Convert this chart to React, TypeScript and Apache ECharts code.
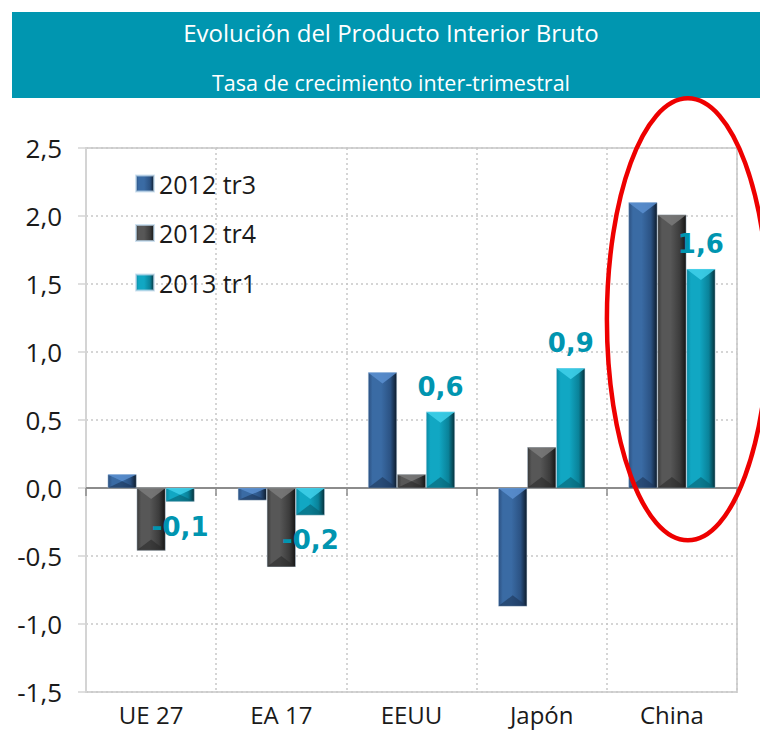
import React, { useEffect, useRef } from "react";
import * as echarts from "echarts";

const categories = ["UE 27", "EA 17", "EEUU", "Japón", "China"];
const seriesNames = ["2012 tr3", "2012 tr4", "2013 tr1"];
const tr3_2012 = [0.1, -0.09, 0.85, -0.87, 2.1];
const tr4_2012 = [-0.46, -0.58, 0.1, 0.3, 2.01];
const tr1_2013 = [-0.1, -0.2, 0.56, 0.88, 1.61];
const titleText = "Evolución del Producto Interior Bruto";
const subtitleText = "Tasa de crecimiento inter-trimestral";

const fmt = (v: number) => v.toFixed(1).replace(".", ",");

const grad = (c0: string, c1: string, c2: string, c3: string) =>
  new echarts.graphic.LinearGradient(0, 0, 1, 0, [
    { offset: 0, color: c0 },
    { offset: 0.15, color: c1 },
    { offset: 0.45, color: c1 },
    { offset: 0.78, color: c2 },
    { offset: 1, color: c3 },
  ]);

const BAR_W = 29;

export default function App() {
  const ref = useRef<HTMLDivElement>(null);
  useEffect(() => {
    if (!ref.current) return;
    const chart = echarts.init(ref.current, null, { renderer: "svg" });
    const font = "'Open Sans', 'Noto Sans', sans-serif";
    const colors = [
      grad("#2c5080", "#3a6ba4", "#2b5283", "#0d1b2b"),
      grad("#3a3a3a", "#575757", "#3c3c3c", "#141414"),
      grad("#0a8aa3", "#11a7c3", "#0a8299", "#05303a"),
    ];
    const topCols = ["#5a8fd0", "#7a7a7a", "#3fd0ea"];
    const botCols = ["#1c3658", "#2a2a2a", "#075f70"];
    const data = [tr3_2012, tr4_2012, tr1_2013];
    const series: any[] = data.map((vals, i) => ({
      name: seriesNames[i],
      type: "bar",
      xAxisIndex: 0,
      barWidth: BAR_W,
      barGap: "0%",
      itemStyle: { color: colors[i], borderColor: "rgba(190,215,235,0.7)", borderWidth: 0.6 },
      data: vals.map((v) => ({
        value: v,
        label:
          i === 2
            ? {
                show: true,
                position: v < 0 ? "bottom" : "top",
                distance: 12,
                formatter: () => fmt(v),
                color: "#0095b0",
                fontFamily: "'DejaVu Sans', Verdana, sans-serif",
                fontWeight: "bold",
                fontSize: 26,
              }
            : { show: false },
      })),
    }));
    const bevelData: number[][] = [];
    data.forEach((vals, i) => vals.forEach((v, j) => bevelData.push([j, v, i])));
    series.push({
      name: "bevel",
      type: "custom",
      silent: true,
      z: 3,
      xAxisIndex: 0,
      data: bevelData,
      encode: { x: 0, y: 1 },
      renderItem: (params: any, api: any) => {
        const j = api.value(0);
        const v = api.value(1);
        const i = api.value(2);
        const base = api.coord([j, 0]);
        const end = api.coord([j, v]);
        const x0 = base[0] + (i - 1.5) * BAR_W;
        const x1 = x0 + BAR_W;
        const xm = (x0 + x1) / 2;
        const yTop = Math.min(base[1], end[1]);
        const yBot = Math.max(base[1], end[1]);
        const h = yBot - yTop;
        const d = Math.min(11, h / 2);
        return {
          type: "group",
          children: [
            {
              type: "polygon",
              shape: { points: [[x0, yTop], [x1, yTop], [xm, yTop + d]] },
              style: { fill: topCols[i], opacity: 0.85 },
            },
            {
              type: "polygon",
              shape: { points: [[x0, yBot], [x1, yBot], [xm, yBot - d]] },
              style: { fill: botCols[i], opacity: 0.6 },
            },
          ],
        };
      },
    });
    chart.setOption({
      animation: false,
      backgroundColor: "#ffffff",
      grid: {
        left: 86,
        right: 23,
        top: 148,
        bottom: 38,
        show: true,
        borderColor: "#d4d4d4",
        borderWidth: 2,
      },
      legend: {
        orient: "vertical",
        left: 130,
        top: 166,
        itemWidth: 18,
        itemHeight: 16,
        itemGap: 24.5,
        icon: "rect",
        data: seriesNames,
        textStyle: { fontSize: 25, lineHeight: 25, color: "#1a1a1a", fontFamily: font },
      },
      xAxis: [
        {
          type: "category",
          data: categories,
          axisLine: { onZero: true, lineStyle: { color: "#8c8c8c", width: 2 } },
          axisTick: { show: true, length: 8, lineStyle: { color: "#8c8c8c", width: 1.5 } },
          axisLabel: { show: false },
          splitLine: { show: true, lineStyle: { color: "#c8c8c8", type: [2, 3], width: 1.5 } },
        },
        {
          type: "category",
          position: "bottom",
          data: categories,
          axisLine: { show: false, onZero: false },
          axisTick: { show: false },
          splitLine: { show: false },
          axisLabel: { fontSize: 24, lineHeight: 24, color: "#1a1a1a", fontFamily: font, margin: 10 },
        },
      ],
      yAxis: {
        type: "value",
        min: -1.5,
        max: 2.5,
        interval: 0.5,
        axisLine: { show: true, lineStyle: { color: "#d4d4d4", width: 2 } },
        axisTick: { show: true, length: 8, lineStyle: { color: "#d4d4d4", width: 1.5 } },
        axisLabel: {
          formatter: (v: number) => fmt(v),
          fontSize: 26,
          color: "#1a1a1a",
          fontFamily: font,
          margin: 24,
        },
        splitLine: { show: true, lineStyle: { color: "#c8c8c8", type: [2, 3], width: 1.5 } },
      },
      series,
    });
    const cx = chart.convertToPixel({ xAxisIndex: 0 }, "China") as number;
    const cy = chart.convertToPixel({ yAxisIndex: 0 }, 1.24) as number;
    chart.setOption({
      graphic: [
        {
          type: "rect",
          shape: { x: 12, y: 12, width: 748, height: 86 },
          style: { fill: "#0096b0" },
          z: 10,
        },
        {
          type: "text",
          x: 391,
          y: 32,
          style: {
            text: titleText,
            fill: "#ffffff",
            fontSize: 24,
            fontFamily: font,
            align: "center",
            verticalAlign: "middle",
          },
          z: 11,
        },
        {
          type: "text",
          x: 391,
          y: 82,
          style: {
            text: subtitleText,
            fill: "#ffffff",
            fontSize: 21.5,
            fontFamily: font,
            align: "center",
            verticalAlign: "middle",
          },
          z: 11,
        },
        {
          type: "ellipse",
          shape: { cx: cx + 16, cy, rx: 81, ry: 221 },
          style: { fill: "none", stroke: "#ee0000", lineWidth: 4.5 },
          z: 12,
        },
      ],
    });
    return () => chart.dispose();
  }, []);
  return (
    <div
      ref={ref}
      style={{ position: "fixed", left: 0, top: 0, width: 760, height: 730, background: "#fff" }}
    />
  );
}
